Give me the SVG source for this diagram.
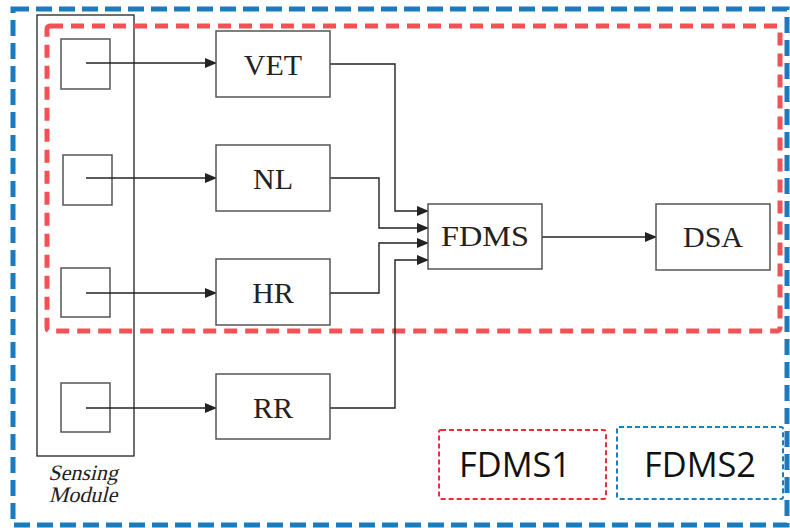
<svg xmlns="http://www.w3.org/2000/svg" width="790" height="528" viewBox="0 0 790 528">
<style>
.box{fill:#fff;stroke:#555;stroke-width:1.5}
.sq{fill:none;stroke:#555;stroke-width:1.5}
.lbl{font-family:"Liberation Serif","Times New Roman",Times,serif;font-size:30px;fill:#222;text-anchor:middle}
.it{font-family:"Liberation Serif","Times New Roman",Times,serif;font-size:22px;fill:#222;text-anchor:middle}
.ln{fill:none;stroke:#222;stroke-width:1.4}
.arr{marker-end:url(#ah)}
.leg{font-family:"Open Sans","Liberation Sans",sans-serif;font-size:34px;fill:#111;text-anchor:middle}
</style>
<defs>
<marker id="ah" markerWidth="12" markerHeight="10" refX="11" refY="5" orient="auto" markerUnits="userSpaceOnUse">
<path d="M0,0 L12,5 L0,10 Z" fill="#222"/>
</marker>
</defs>
<rect width="790" height="528" fill="#fff"/>
<g id="fdms2-region"><rect x="13" y="9" width="774" height="516" fill="none" stroke="#1a7bbf" stroke-width="5" stroke-dasharray="16 7"/></g>
<g id="sensing-module">
<rect x="37" y="15" width="97" height="441" fill="none" stroke="#222" stroke-width="1.3"/>
<text class="it" transform="translate(83,480) skewX(-14)" x="0" y="0">Sensing</text>
<text class="it" transform="translate(83,502) skewX(-14)" x="0" y="0">Module</text>
</g>
<g id="fdms1-region"><rect x="47" y="26" width="733" height="305" rx="3" fill="none" stroke="#f05256" stroke-width="5" stroke-dasharray="13 8"/></g>
<g id="sensor1"><rect class="sq" x="61" y="39" width="49" height="50"/></g>
<g id="sensor2"><rect class="sq" x="63" y="155" width="49" height="50"/></g>
<g id="sensor3"><rect class="sq" x="61" y="268" width="49" height="49"/></g>
<g id="sensor4"><rect class="sq" x="61" y="383" width="49" height="49"/></g>
<g id="connectors">
<path class="ln arr" d="M86,63 H216"/>
<path class="ln arr" d="M86,178 H216"/>
<path class="ln arr" d="M86,293 H216"/>
<path class="ln arr" d="M86,408 H216"/>
<path class="ln arr" d="M330,64 H395 V211 H428"/>
<path class="ln arr" d="M330,178 H379 V228 H428"/>
<path class="ln arr" d="M330,293 H379 V243 H428"/>
<path class="ln arr" d="M330,408 H395 V260 H428"/>
<path class="ln arr" d="M542,237 H656"/>
</g>
<g id="vet"><rect class="box" x="216" y="31" width="114" height="66"/><text class="lbl" x="273" y="75">VET</text></g>
<g id="nl"><rect class="box" x="216" y="145" width="114" height="66"/><text class="lbl" x="273" y="189">NL</text></g>
<g id="hr"><rect class="box" x="216" y="259" width="114" height="66"/><text class="lbl" x="273" y="303">HR</text></g>
<g id="rr"><rect class="box" x="216" y="374" width="114" height="65"/><text class="lbl" x="273" y="418">RR</text></g>
<g id="fdms"><rect class="box" x="428" y="204" width="114" height="65"/><text class="lbl" x="485" y="246" textLength="88" lengthAdjust="spacingAndGlyphs">FDMS</text></g>
<g id="dsa"><rect class="box" x="656" y="204" width="114" height="66"/><text class="lbl" x="713" y="247">DSA</text></g>
<g id="legend-fdms1"><rect x="439" y="430" width="167" height="69" rx="2" fill="none" stroke="#e8303a" stroke-width="2" stroke-dasharray="5 3"/><text class="leg" x="515" y="477" textLength="112" lengthAdjust="spacingAndGlyphs">FDMS1</text></g>
<g id="legend-fdms2"><rect x="617" y="427" width="166" height="72" rx="2" fill="none" stroke="#1a7fc1" stroke-width="2" stroke-dasharray="5 3"/><text class="leg" x="700" y="477" textLength="112" lengthAdjust="spacingAndGlyphs">FDMS2</text></g>
</svg>
